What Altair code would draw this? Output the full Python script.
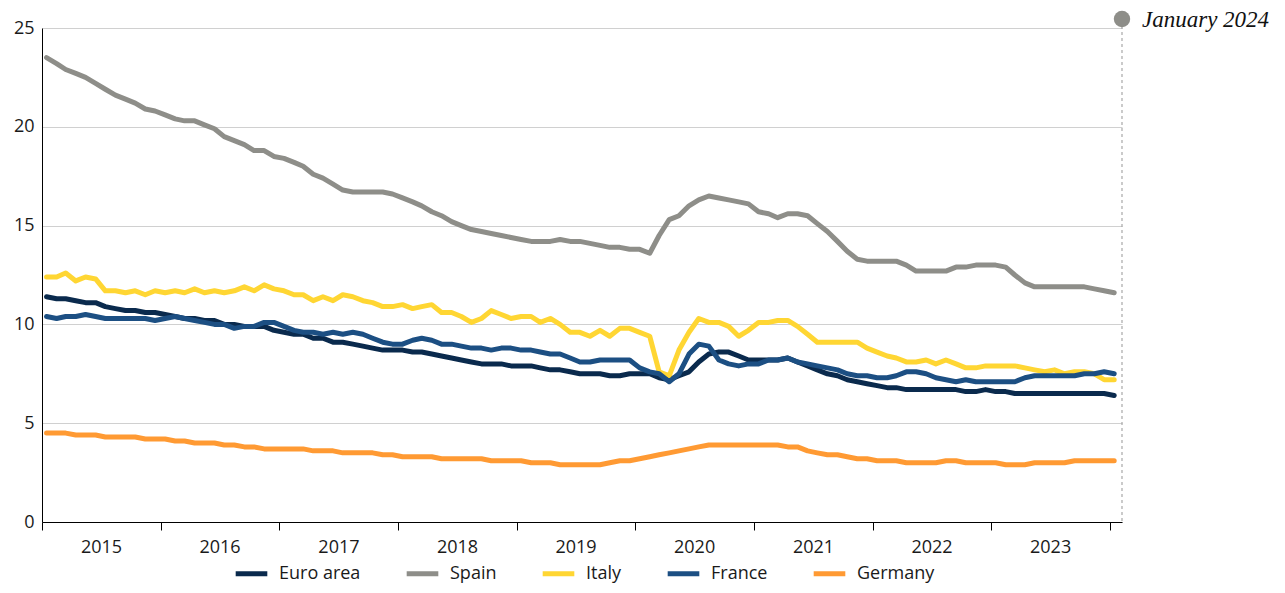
import altair as alt
import pandas as pd

# Monthly unemployment rate (%), Jan 2015 - Jan 2024
euro_area = [
    11.4, 11.3, 11.3, 11.2, 11.1, 11.1, 10.9, 10.8, 10.7, 10.7, 10.6, 10.6,
    10.5, 10.4, 10.3, 10.3, 10.2, 10.2, 10.0, 10.0, 9.9, 9.9, 9.9, 9.7,
    9.6, 9.5, 9.5, 9.3, 9.3, 9.1, 9.1, 9.0, 8.9, 8.8, 8.7, 8.7,
    8.7, 8.6, 8.6, 8.5, 8.4, 8.3, 8.2, 8.1, 8.0, 8.0, 8.0, 7.9,
    7.9, 7.9, 7.8, 7.7, 7.7, 7.6, 7.5, 7.5, 7.5, 7.4, 7.4, 7.5,
    7.5, 7.5, 7.3, 7.2, 7.4, 7.6, 8.1, 8.5, 8.6, 8.6, 8.4, 8.2,
    8.2, 8.2, 8.2, 8.3, 8.1, 7.9, 7.7, 7.5, 7.4, 7.2, 7.1, 7.0,
    6.9, 6.8, 6.8, 6.7, 6.7, 6.7, 6.7, 6.7, 6.7, 6.6, 6.6, 6.7,
    6.6, 6.6, 6.5, 6.5, 6.5, 6.5, 6.5, 6.5, 6.5, 6.5, 6.5, 6.5,
    6.4,
]
spain = [
    23.5, 23.2, 22.9, 22.7, 22.5, 22.2, 21.9, 21.6, 21.4, 21.2, 20.9, 20.8,
    20.6, 20.4, 20.3, 20.3, 20.1, 19.9, 19.5, 19.3, 19.1, 18.8, 18.8, 18.5,
    18.4, 18.2, 18.0, 17.6, 17.4, 17.1, 16.8, 16.7, 16.7, 16.7, 16.7, 16.6,
    16.4, 16.2, 16.0, 15.7, 15.5, 15.2, 15.0, 14.8, 14.7, 14.6, 14.5, 14.4,
    14.3, 14.2, 14.2, 14.2, 14.3, 14.2, 14.2, 14.1, 14.0, 13.9, 13.9, 13.8,
    13.8, 13.6, 14.5, 15.3, 15.5, 16.0, 16.3, 16.5, 16.4, 16.3, 16.2, 16.1,
    15.7, 15.6, 15.4, 15.6, 15.6, 15.5, 15.1, 14.7, 14.2, 13.7, 13.3, 13.2,
    13.2, 13.2, 13.2, 13.0, 12.7, 12.7, 12.7, 12.7, 12.9, 12.9, 13.0, 13.0,
    13.0, 12.9, 12.5, 12.1, 11.9, 11.9, 11.9, 11.9, 11.9, 11.9, 11.8, 11.7,
    11.6,
]
italy = [
    12.4, 12.4, 12.6, 12.2, 12.4, 12.3, 11.7, 11.7, 11.6, 11.7, 11.5, 11.7,
    11.6, 11.7, 11.6, 11.8, 11.6, 11.7, 11.6, 11.7, 11.9, 11.7, 12.0, 11.8,
    11.7, 11.5, 11.5, 11.2, 11.4, 11.2, 11.5, 11.4, 11.2, 11.1, 10.9, 10.9,
    11.0, 10.8, 10.9, 11.0, 10.6, 10.6, 10.4, 10.1, 10.3, 10.7, 10.5, 10.3,
    10.4, 10.4, 10.1, 10.3, 10.0, 9.6, 9.6, 9.4, 9.7, 9.4, 9.8, 9.8,
    9.6, 9.4, 7.6, 7.4, 8.7, 9.6, 10.3, 10.1, 10.1, 9.9, 9.4, 9.7,
    10.1, 10.1, 10.2, 10.2, 9.9, 9.5, 9.1, 9.1, 9.1, 9.1, 9.1, 8.8,
    8.6, 8.4, 8.3, 8.1, 8.1, 8.2, 8.0, 8.2, 8.0, 7.8, 7.8, 7.9,
    7.9, 7.9, 7.9, 7.8, 7.7, 7.6, 7.7, 7.5, 7.6, 7.6, 7.5, 7.2,
    7.2,
]
france = [
    10.4, 10.3, 10.4, 10.4, 10.5, 10.4, 10.3, 10.3, 10.3, 10.3, 10.3, 10.2,
    10.3, 10.4, 10.3, 10.2, 10.1, 10.0, 10.0, 9.8, 9.9, 9.9, 10.1, 10.1,
    9.9, 9.7, 9.6, 9.6, 9.5, 9.6, 9.5, 9.6, 9.5, 9.3, 9.1, 9.0,
    9.0, 9.2, 9.3, 9.2, 9.0, 9.0, 8.9, 8.8, 8.8, 8.7, 8.8, 8.8,
    8.7, 8.7, 8.6, 8.5, 8.5, 8.3, 8.1, 8.1, 8.2, 8.2, 8.2, 8.2,
    7.8, 7.6, 7.5, 7.1, 7.5, 8.5, 9.0, 8.9, 8.2, 8.0, 7.9, 8.0,
    8.0, 8.2, 8.2, 8.3, 8.1, 8.0, 7.9, 7.8, 7.7, 7.5, 7.4, 7.4,
    7.3, 7.3, 7.4, 7.6, 7.6, 7.5, 7.3, 7.2, 7.1, 7.2, 7.1, 7.1,
    7.1, 7.1, 7.1, 7.3, 7.4, 7.4, 7.4, 7.4, 7.4, 7.5, 7.5, 7.6,
    7.5,
]
germany = [
    4.5, 4.5, 4.5, 4.4, 4.4, 4.4, 4.3, 4.3, 4.3, 4.3, 4.2, 4.2,
    4.2, 4.1, 4.1, 4.0, 4.0, 4.0, 3.9, 3.9, 3.8, 3.8, 3.7, 3.7,
    3.7, 3.7, 3.7, 3.6, 3.6, 3.6, 3.5, 3.5, 3.5, 3.5, 3.4, 3.4,
    3.3, 3.3, 3.3, 3.3, 3.2, 3.2, 3.2, 3.2, 3.2, 3.1, 3.1, 3.1,
    3.1, 3.0, 3.0, 3.0, 2.9, 2.9, 2.9, 2.9, 2.9, 3.0, 3.1, 3.1,
    3.2, 3.3, 3.4, 3.5, 3.6, 3.7, 3.8, 3.9, 3.9, 3.9, 3.9, 3.9,
    3.9, 3.9, 3.9, 3.8, 3.8, 3.6, 3.5, 3.4, 3.4, 3.3, 3.2, 3.2,
    3.1, 3.1, 3.1, 3.0, 3.0, 3.0, 3.0, 3.1, 3.1, 3.0, 3.0, 3.0,
    3.0, 2.9, 2.9, 2.9, 3.0, 3.0, 3.0, 3.0, 3.1, 3.1, 3.1, 3.1,
    3.1,
]

series_names = ["Euro area", "Spain", "Italy", "France", "Germany"]
series_colors = ["#0a2a4d", "#8e8e89", "#ffd633", "#1c4f83", "#ff9a33"]
series_values = [euro_area, spain, italy, france, germany]

months = pd.date_range("2015-01-01", periods=109, freq="MS") + pd.Timedelta(days=14)
month_str = [d.strftime("%Y-%m-%d") for d in months]

rows = []
for order, (name, vals) in enumerate(zip(series_names, series_values)):
    for m, v in zip(month_str, vals):
        rows.append({"date": m, "series": name, "value": v, "order": order})
df = pd.DataFrame(rows)

FONT = "Open Sans"
x_domain = [alt.DateTime(year=2015, month=1, date=1, utc=True),
            alt.DateTime(year=2024, month=2, date=8, utc=True)]
year_ticks = [alt.DateTime(year=y, month=1, date=1, utc=True) for y in range(2015, 2025)]

x_enc = alt.X(
    "date:T",
    scale=alt.Scale(type="utc", domain=x_domain),
    axis=alt.Axis(
        values=year_ticks, title=None, grid=False,
        labelExpr="utcyear(datum.value) < 2024 ? utcFormat(datum.value, '%Y') : ''",
        labelOffset=59, labelFlush=False, labelOverlap=False,
        domainColor="#000000", tickColor="#000000", tickSize=8,
        labelFontSize=18, labelFont=FONT, labelColor="#1a1a1a", labelPadding=8,
    ),
)

lines = alt.Chart(df).mark_line(strokeWidth=5, strokeJoin="round", strokeCap="round").encode(
    x=x_enc,
    y=alt.Y(
        "value:Q",
        scale=alt.Scale(domain=[0, 25], nice=False),
        axis=alt.Axis(
            values=[0, 5, 10, 15, 20, 25], title=None, ticks=False,
            domainColor="#000000", gridColor="#d0d0d0", gridWidth=1,
            labelFontSize=18, labelFont=FONT, labelColor="#1a1a1a", labelPadding=8,
        ),
    ),
    color=alt.Color(
        "series:N",
        scale=alt.Scale(domain=series_names, range=series_colors),
        legend=alt.Legend(
            title=None, orient="none", legendX=191, legendY=527,
            direction="horizontal", symbolType="stroke", symbolStrokeWidth=5,
            symbolSize=1000, labelFontSize=18, labelFont=FONT, labelColor="#1a1a1a",
            labelOffset=9, columnPadding=35,
        ),
    ),
    order=alt.Order("order:Q"),
    detail="series:N",
)

end_date = alt.DateTime(year=2024, month=2, date=8, utc=True)
marker_df = pd.DataFrame({"label": ["January 2024"]})

vline = alt.Chart(marker_df).mark_rule(strokeDash=[3, 3], color="#a8a8a8", strokeWidth=1.2).encode(
    x=alt.datum(end_date, type="temporal"),
    y=alt.value(-2), y2=alt.value(494),
)
dot = alt.Chart(marker_df).mark_point(filled=True, size=270, color="#8e8e89", opacity=1, clip=False).encode(
    x=alt.datum(end_date, type="temporal"),
    y=alt.value(-9),
)
label = alt.Chart(marker_df).mark_text(
    align="left", baseline="middle", dx=20, dy=1, fontSize=23,
    font="Liberation Serif", fontStyle="italic", color="#111111",
).encode(
    x=alt.datum(end_date, type="temporal"),
    y=alt.value(-9),
    text="label:N",
)

chart = alt.layer(lines, vline, dot, label).properties(
    width=1080, height=494,
    autosize=alt.AutoSizeParams(type="none"),
    padding={"left": 34, "top": 20, "right": 155, "bottom": 63},
).configure_view(stroke=None)

chart.save("out.html", embed_options={"renderer": "svg", "actions": False})
